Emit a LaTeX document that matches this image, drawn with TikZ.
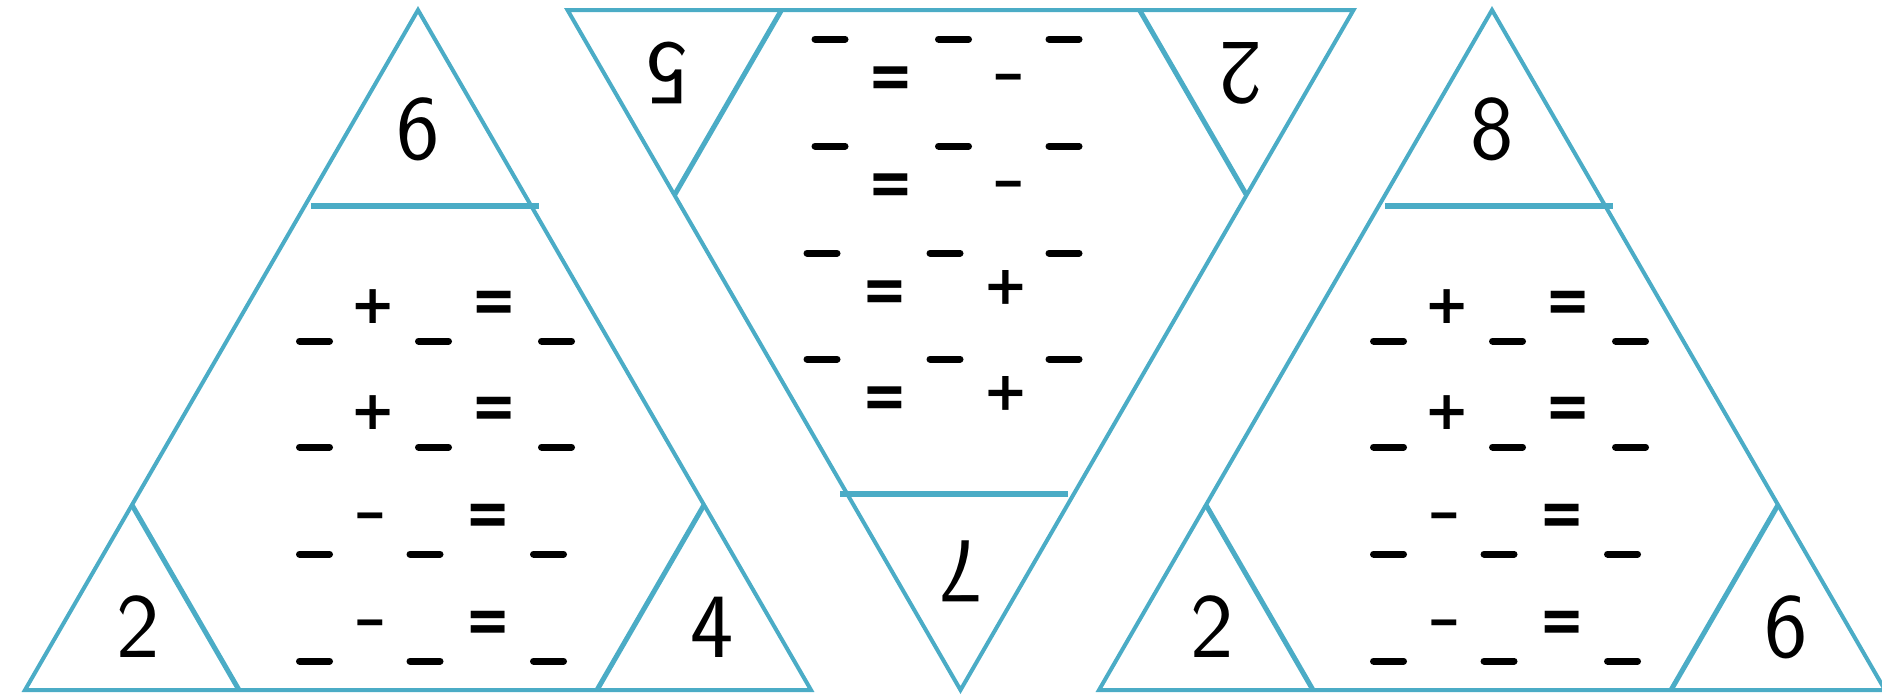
\documentclass[tikz,border=0pt]{standalone}
\usepackage{fontspec}
\newfontfamily\opfont{DejaVu Sans}
\definecolor{tblue}{HTML}{4BACC6}
\tikzset{
  edge/.style={draw=tblue, line width=2pt, line join=miter},
  divider/.style={draw=tblue, line width=3pt},
  corner/.style={draw=tblue, line width=2.5pt},
  blank/.style={line width=3.5pt, line cap=round},
  op/.style={inner sep=0pt, font=\opfont\bfseries\fontsize{27}{30}\selectfont},
  digit/.style={inner sep=0pt, font=\sffamily\fontsize{46}{50}\selectfont},
}
\newcommand\blankat[2]{\draw[blank] (#1-15,#2) -- (#1+15,#2);}
\newcommand\rowplus[3]{% y of blanks, y of operators, prefix
  \blankat{314.5}{#1}\blankat{433.5}{#1}\blankat{556.5}{#1}
  \node[op] (#3p) at (373,#2) {+};
  \node[op] (#3e) at (494,#2) {\scalebox{1}[1.2]{=}};}
\newcommand\rowminus[3]{%
  \blankat{314.5}{#1}\blankat{425}{#1}\blankat{548.5}{#1}
  \node[op] (#3m) at (370,#2) {\scalebox{1.5}[0.75]{-}};
  \node[op] (#3e) at (488,#2) {\scalebox{1}[1.2]{=}};}
\newcommand\mytri[4]{% top, bottom-left, bottom-right, prefix
  \draw[edge] (418,10) -- (25,690) -- (811,690) -- cycle;
  \draw[divider] (311,206) -- (539,206);
  \draw[corner] (132,505) -- (239,690);
  \draw[corner] (704,505) -- (597,690);
  \rowplus{341}{307}{#4a}
  \rowplus{447}{413}{#4b}
  \rowminus{554}{520}{#4c}
  \rowminus{661}{627}{#4d}
  \node[digit] (#4top) at (418,129) {#1};
  \node[digit] (#4bl) at (138,627) {#2};
  \node[digit] (#4br) at (712,627) {#3};}
\begin{document}
\begin{tikzpicture}[x=0.5pt,y=-0.5pt]
  \useasboundingbox (0,0) rectangle (1882,698);
  \clip (0,0) rectangle (1882,698);
  \begin{scope}
    \mytri{6}{2}{4}{A}
  \end{scope}
  \begin{scope}[rotate around={180:(689.25,350)}, transform shape]
    \mytri{7}{2}{5}{B}
  \end{scope}
  \begin{scope}[shift={(1074,0)}]
    \mytri{8}{2}{6}{C}
  \end{scope}
\end{tikzpicture}
\end{document}
